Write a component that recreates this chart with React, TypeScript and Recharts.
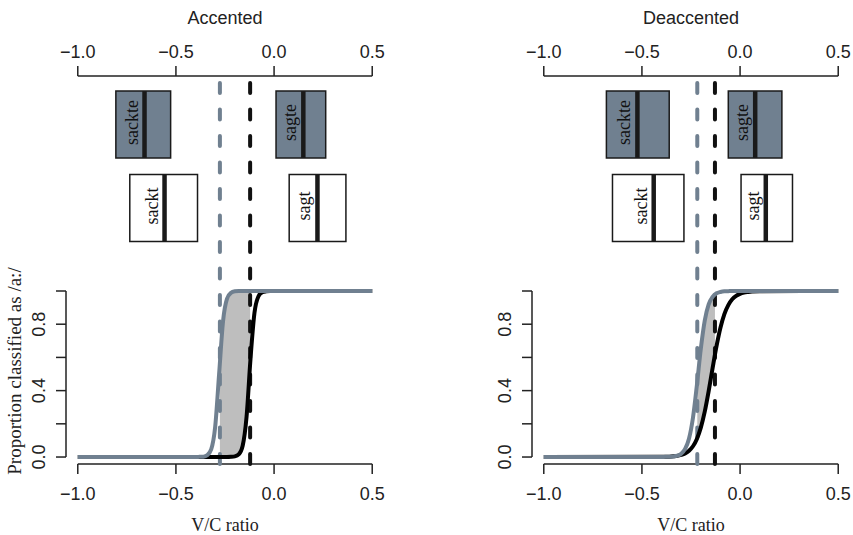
import {
  ComposedChart,
  Line,
  Area,
  XAxis,
  YAxis,
  ReferenceLine,
  ReferenceArea
} from "recharts";

const vcGrid = [
  -1.0, -0.4, -0.38, -0.36, -0.34, -0.32, -0.3, -0.28, -0.26, -0.24, -0.22,
  -0.2, -0.18, -0.16, -0.14, -0.12, -0.1, -0.08, -0.06, -0.04, -0.02, 0.0,
  0.02, 0.04, 0.06, 0.1, 0.5
];

// proportion classified as /a:/ (gray = -te forms, black = -t forms)
const accentedGray = [
  0, 0, 0.001, 0.002, 0.011, 0.047, 0.182, 0.5, 0.818, 0.953, 0.989, 0.998,
  1, 1, 1, 1, 1, 1, 1, 1, 1, 1, 1, 1, 1, 1, 1
];
const accentedBlack = [
  0, 0, 0, 0, 0, 0, 0, 0, 0, 0, 0.001, 0.004, 0.016, 0.068, 0.245, 0.593,
  0.867, 0.967, 0.992, 0.998, 1, 1, 1, 1, 1, 1, 1
];
const deaccentedGray = [
  0, 0, 0.001, 0.001, 0.003, 0.008, 0.02, 0.049, 0.112, 0.237, 0.433, 0.652,
  0.822, 0.919, 0.965, 0.986, 0.994, 0.998, 0.999, 1, 1, 1, 1, 1, 1, 1, 1
];
const deaccentedBlack = [
  0, 0.001, 0.001, 0.002, 0.004, 0.007, 0.013, 0.022, 0.038, 0.065, 0.109,
  0.177, 0.273, 0.397, 0.535, 0.668, 0.779, 0.861, 0.915, 0.95, 0.971, 0.983,
  0.99, 0.994, 0.997, 0.999, 1
];

// shaded band between the two boundaries
const accentedBandX = [-0.276, -0.26, -0.24, -0.22, -0.2, -0.18, -0.16, -0.14, -0.122];
const accentedBandLow = [0, 0, 0, 0.001, 0.004, 0.016, 0.068, 0.245, 0.556];
const accentedBandHigh = [0.574, 0.818, 0.953, 0.989, 0.998, 1, 1, 1, 1];

const deaccentedBandX = [-0.218, -0.2, -0.18, -0.16, -0.14, -0.128];
const deaccentedBandLow = [0.115, 0.177, 0.273, 0.397, 0.535, 0.617];
const deaccentedBandHigh = [0.455, 0.652, 0.822, 0.919, 0.965, 0.98];

// category boundaries (gray, black)
const accentedBounds = [-0.276, -0.122];
const deaccentedBounds = [-0.218, -0.128];

// boxes
const boxWords = ["sackte", "sagte", "sackt", "sagt"];
const boxRows = [2, 2, 1, 1];

const accentedBoxLow = [-0.806, 0.01, -0.735, 0.077];
const accentedBoxHigh = [-0.527, 0.263, -0.39, 0.366];
const accentedBoxMedian = [-0.66, 0.149, -0.558, 0.221];

const deaccentedBoxLow = [-0.681, -0.06, -0.65, 0.005];
const deaccentedBoxHigh = [-0.361, 0.213, -0.286, 0.267];
const deaccentedBoxMedian = [-0.523, 0.077, -0.44, 0.131];

const xTicks = [-1, -0.5, 0, 0.5];
const yTicks = [0, 0.2, 0.4, 0.6, 0.8, 1];
const yTickLabels = ["0.0", "", "0.4", "", "0.8", ""];

const X_DOMAIN = [-1.06, 0.56];
const P_DOMAIN = [-0.042, 2.295];
const BOX_DOMAIN = [-2.066, 2.581];

const SLATE = "#708090";
const INK = "#222";
const SANS = "'Liberation Sans', Arial, Helvetica, sans-serif";
const SERIF = "'Liberation Serif', 'Times New Roman', serif";

const fmt = (v: number) => v.toFixed(1).replace("-", "\u2212");

function PTick(props: any) {
  const { x, y, payload } = props;
  const label = yTickLabels[yTicks.indexOf(payload.value)];
  const tx = x - 9;
  return (
    <text
      x={tx}
      y={y}
      transform={`rotate(-90 ${tx} ${y})`}
      textAnchor="middle"
      fontFamily={SANS}
      fontSize={18}
      fill={INK}
    >
      {label}
    </text>
  );
}

function Panel(props: any) {
  const {
    left, width, margin, title, titleX,
    gray, black, bandX, bandLow, bandHigh, bounds,
    boxLow, boxHigh, boxMedian, showYLabel
  } = props;

  const grayRows = vcGrid.map((x, i) => ({ x, p: gray[i] }));
  const blackRows = vcGrid.map((x, i) => ({ x, p: black[i] }));
  const bandRows = bandX.map((x: number, i: number) => ({ x, band: [bandLow[i], bandHigh[i]] }));

  const lineStyle = { stroke: INK, strokeWidth: 1.5 };
  const tickText = { fontSize: 18, fill: INK, fontFamily: SANS };

  return (
    <div style={{ position: "absolute", left, top: 0, width, height: 535 }}>
      <div
        style={{
          position: "absolute", left: titleX - 100, top: 9, width: 200,
          textAlign: "center", fontFamily: SANS, fontSize: 18, lineHeight: 1, color: INK
        }}
      >
        {title}
      </div>

      <ComposedChart width={width} height={535} margin={margin}>
        <XAxis
          xAxisId="top" orientation="top" type="number" dataKey="x"
          domain={X_DOMAIN} ticks={xTicks} interval={0} allowDataOverflow
          axisLine={false} tickLine={lineStyle} tickSize={10} tickMargin={8}
          height={60} tick={tickText} tickFormatter={fmt}
        />
        <XAxis
          xAxisId="bottom" orientation="bottom" type="number" dataKey="x"
          domain={X_DOMAIN} ticks={xTicks} interval={0} allowDataOverflow
          axisLine={false} tickLine={lineStyle} tickSize={10} tickMargin={13}
          height={50} tick={tickText} tickFormatter={fmt}
        />
        <YAxis
          yAxisId="p" type="number" domain={P_DOMAIN} ticks={yTicks} interval={0}
          allowDataOverflow axisLine={false} tickLine={lineStyle} tickSize={10}
          tickMargin={2} width={60} tick={PTick}
        />
        <YAxis yAxisId="box" type="number" domain={BOX_DOMAIN} allowDataOverflow hide width={0} />

        {/* axis lines only between the outer ticks */}
        <ReferenceLine
          xAxisId="top" yAxisId="box" ifOverflow="visible"
          segment={[{ x: -1, y: BOX_DOMAIN[1] }, { x: 0.5, y: BOX_DOMAIN[1] }]}
          {...lineStyle}
        />
        <ReferenceLine
          xAxisId="bottom" yAxisId="p" ifOverflow="visible"
          segment={[{ x: -1, y: P_DOMAIN[0] }, { x: 0.5, y: P_DOMAIN[0] }]}
          {...lineStyle}
        />
        <ReferenceLine
          xAxisId="bottom" yAxisId="p" ifOverflow="visible"
          segment={[{ x: X_DOMAIN[0], y: 0 }, { x: X_DOMAIN[0], y: 1 }]}
          {...lineStyle}
        />

        {boxWords.map((word, i) => {
          const row = boxRows[i];
          const lo = boxLow[i];
          const hi = boxHigh[i];
          const med = boxMedian[i];
          return (
            <ReferenceArea
              key={"box" + i}
              xAxisId="top" yAxisId="box" ifOverflow="visible"
              x1={lo} x2={hi} y1={row - 0.4} y2={row + 0.4}
              fill={row === 2 ? SLATE : "#fff"} fillOpacity={1}
              stroke="#1a1a1a" strokeWidth={1.5}
              label={(lp: any) => {
                const vb = lp.viewBox || {};
                const mx = vb.x + (vb.width * (med - lo)) / (hi - lo);
                const tx = mx - 7;
                const ty = vb.y + vb.height / 2 - 2;
                return (
                  <text
                    x={tx} y={ty} transform={`rotate(-90 ${tx} ${ty})`}
                    textAnchor="middle" fontFamily={SERIF} fontSize={18} fill="#111"
                  >
                    {word}
                  </text>
                );
              }}
            />
          );
        })}
        {boxWords.map((word, i) => (
          <ReferenceLine
            key={"med" + word}
            xAxisId="top" yAxisId="box" ifOverflow="visible"
            segment={[
              { x: boxMedian[i], y: boxRows[i] - 0.4 },
              { x: boxMedian[i], y: boxRows[i] + 0.4 }
            ]}
            stroke="#1a1a1a" strokeWidth={4.5}
          />
        ))}

        <Area
          xAxisId="bottom" yAxisId="p" data={bandRows} dataKey="band"
          type="monotone" stroke="none" fill="#bebebe" fillOpacity={1}
          isAnimationActive={false}
        />

        <ReferenceLine
          xAxisId="bottom" yAxisId="p" x={bounds[0]}
          stroke={SLATE} strokeWidth={4} strokeDasharray="10 16.5" strokeLinecap="round"
        />
        <ReferenceLine
          xAxisId="bottom" yAxisId="p" x={bounds[1]}
          stroke="#111" strokeWidth={4} strokeDasharray="10 16.5" strokeLinecap="round"
        />

        <Line
          xAxisId="bottom" yAxisId="p" data={blackRows} dataKey="p"
          type="monotone" stroke="#000" strokeWidth={4} dot={false}
          isAnimationActive={false}
        />
        <Line
          xAxisId="bottom" yAxisId="p" data={grayRows} dataKey="p"
          type="monotone" stroke={SLATE} strokeWidth={4} dot={false}
          isAnimationActive={false}
        />
      </ComposedChart>

      <div
        style={{
          position: "absolute", left: titleX - 100, top: 516, width: 200,
          textAlign: "center", fontFamily: SERIF, fontSize: 18, lineHeight: 1, color: INK
        }}
      >
        V/C ratio
      </div>

      {showYLabel && (
        <div
          style={{
            position: "absolute", left: 14, top: 371, whiteSpace: "nowrap",
            transform: "translate(-50%, -50%) rotate(-90deg)",
            fontFamily: SERIF, fontSize: 19, lineHeight: 1, color: INK
          }}
        >
          Proportion classified as /a:/
        </div>
      )}
    </div>
  );
}

export default function App() {
  return (
    <div
      style={{
        position: "absolute", left: 0, top: 0, width: 853, height: 535,
        background: "#fff", overflow: "hidden"
      }}
    >
      <Panel
        left={0} width={420} titleX={225}
        margin={{ top: 16, right: 36, bottom: 21, left: 6 }}
        title="Accented"
        gray={accentedGray} black={accentedBlack}
        bandX={accentedBandX} bandLow={accentedBandLow} bandHigh={accentedBandHigh}
        bounds={accentedBounds}
        boxLow={accentedBoxLow} boxHigh={accentedBoxHigh} boxMedian={accentedBoxMedian}
        showYLabel
      />
      <Panel
        left={420} width={433} titleX={271}
        margin={{ top: 16, right: 3, bottom: 21, left: 52 }}
        title="Deaccented"
        gray={deaccentedGray} black={deaccentedBlack}
        bandX={deaccentedBandX} bandLow={deaccentedBandLow} bandHigh={deaccentedBandHigh}
        bounds={deaccentedBounds}
        boxLow={deaccentedBoxLow} boxHigh={deaccentedBoxHigh} boxMedian={deaccentedBoxMedian}
        showYLabel={false}
      />
    </div>
  );
}
